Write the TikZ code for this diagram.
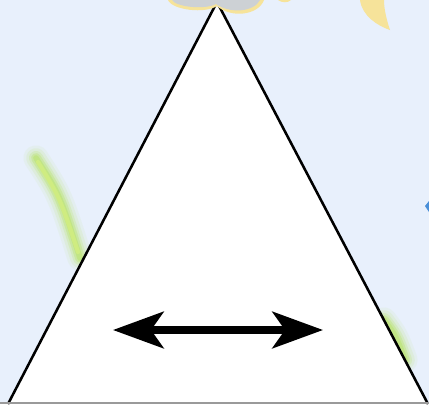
\documentclass[tikz,border=0pt]{standalone}
\usetikzlibrary{arrows.meta, positioning, calc}
\definecolor{SkyWash}{HTML}{E8F0FC}
\definecolor{LeafGreen}{HTML}{B4E25A}
\definecolor{LeafCore}{HTML}{DDF37E}
\definecolor{PetalYellow}{HTML}{F6E39A}
\definecolor{PetalGray}{HTML}{CDD1D5}
\definecolor{EdgeGray}{HTML}{9A9A9A}
\definecolor{TickBlue}{HTML}{4A8FD8}

\tikzset{
  blur/.style={line cap=round, opacity=#1},
  twohead/.style={line width=5pt,
    {Stealth[length=36pt, width=26pt, inset=9pt]}-{Stealth[length=36pt, width=26pt, inset=9pt]}}
}

\begin{document}
\begin{tikzpicture}[x=0.025cm, y=-0.025cm]
  % backdrop
  \fill[SkyWash] (0,0) rectangle (429,404);
  \useasboundingbox (0,0) rectangle (429,404);

  % blurred leaves
  \foreach \w/\o in {18/0.08, 14/0.12, 10/0.2, 7/0.3, 4/0.4} {
    \draw[LeafGreen, line width=\w pt, blur=\o] (36,158) .. controls (60,195) .. (80,258);
    \draw[LeafGreen, line width=\w pt, blur=\o] (384,320) .. controls (396,336) .. (405,360);
  }
  \draw[LeafCore, line width=3pt, blur=0.5] (38,162) .. controls (60,198) .. (78,252);

  % small blue tick at the edge
  \fill[TickBlue] (425,206) -- (429,201) -- (429,212) -- cycle;

  % triangle
  \coordinate (apex) at (217,2);
  \coordinate (baseL) at (8,404);
  \coordinate (baseR) at (428,404);
  \draw[fill=white, line width=1.8pt, line join=miter] (baseL) -- (apex) -- (baseR);

  % flower at the apex
  \fill[PetalYellow] (168,0) .. controls (172,10) and (205,14) .. (217,6)
    .. controls (230,18) and (258,16) .. (264,0) -- cycle;
  \fill[PetalGray] (172,0) .. controls (176,7) and (205,10) .. (216,4)
    .. controls (230,14) and (254,12) .. (260,0) -- cycle;
  \fill[PetalYellow] (278,0) .. controls (282,3) and (288,3) .. (291,0) -- cycle;

  % yellow crescent
  \fill[PetalYellow] (360,0) .. controls (362,16) and (378,26) .. (390,30)
    .. controls (386,18) and (384,8) .. (384,0) -- cycle;

  % bottom rule
  \draw[EdgeGray, line width=1pt] (0,403) -- (429,403);

  % double arrow
  \coordinate (arrL) at (113,330);
  \coordinate (arrR) at (323,330);
  \draw[twohead] (arrL) -- (arrR);
\end{tikzpicture}
\end{document}
